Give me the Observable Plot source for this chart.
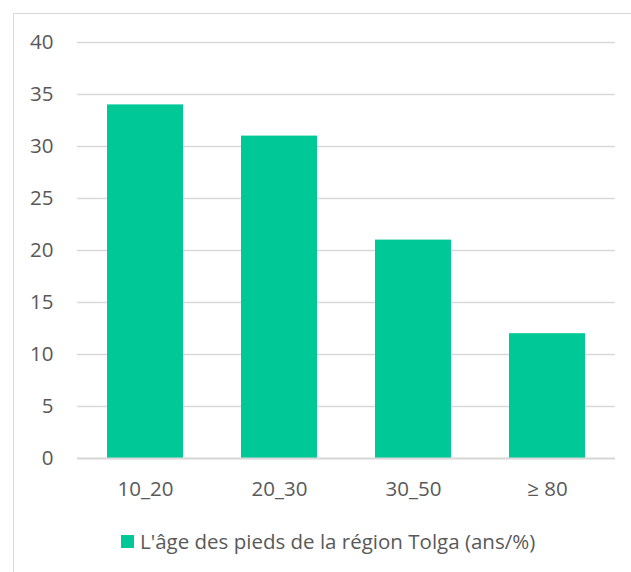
<!DOCTYPE html>
<html>
<head>
<meta charset="utf-8">
<script src="https://cdn.jsdelivr.net/npm/d3@7"></script>
<script src="https://cdn.jsdelivr.net/npm/@observablehq/plot@0.6"></script>
<style>
  html, body { margin: 0; padding: 0; background: #fff; }
  #frame {
    position: relative;
    width: 631px;
    height: 572px;
    overflow: hidden;
    font-family: "Open Sans", sans-serif;
  }
  #border {
    position: absolute;
    left: 13px; top: 13px;
    width: 640px; height: 600px;
    border: 1.5px solid #d9d9d9;
    box-sizing: border-box;
  }
  #chart { position: absolute; left: 0; top: 0; }
  #legend {
    position: absolute;
    left: 121px; top: 527px;
    display: flex; align-items: center;
    font-size: 20.5px; color: #595959;
    white-space: nowrap;
  }
  #legend .swatch {
    width: 13px; height: 13px; background: #00c896;
    margin-right: 6px;
  }
</style>
</head>
<body>
<div id="frame">
  <div id="border"></div>
  <div id="chart"></div>
  <div id="legend"></div>
</div>
<script>
// Age classes of the palm trees and their share (%)
const categories = ["10_20", "20_30", "30_50", "≥ 80"];
const values = [34, 31, 21, 12];
const yTicks = [0, 5, 10, 15, 20, 25, 30, 35, 40];
const seriesName = "L'âge des pieds de la région Tolga (ans/%)";

const color = "#00c896";
const data = categories.map((c, i) => ({category: c, value: values[i]}));

const plot = Plot.plot({
  width: 631,
  height: 515,
  marginLeft: 77,
  marginRight: 16,
  marginTop: 42,
  marginBottom: 57,
  style: {
    fontFamily: "'Open Sans', sans-serif",
    fontSize: "20.5px",
    color: "#595959",
    background: "transparent",
    overflow: "visible"
  },
  x: {domain: categories, paddingInner: 0.43, paddingOuter: 0.215, label: null},
  y: {domain: [0, 40], label: null},
  marks: [
    Plot.gridY(yTicks, {stroke: "#d9d9d9", strokeOpacity: 1, strokeWidth: 1.5}),
    Plot.axisY(yTicks, {tickSize: 0, tickPadding: 24, label: null, fill: "#595959"}),
    Plot.axisX({tickSize: 0, tickPadding: 23, label: null, fill: "#595959"}),
    Plot.barY(data, {
      x: "category",
      y: "value",
      fill: color,
      style: {filter: "drop-shadow(1px 1px 2px rgba(0,0,0,0.35))"}
    }),
    Plot.ruleY([0], {stroke: "#d9d9d9", strokeWidth: 2})
  ]
});
document.getElementById("chart").appendChild(plot);

const legend = document.getElementById("legend");
legend.innerHTML = `<div class="swatch"></div><span></span>`;
legend.querySelector("span").textContent = seriesName;
</script>
</body>
</html>
